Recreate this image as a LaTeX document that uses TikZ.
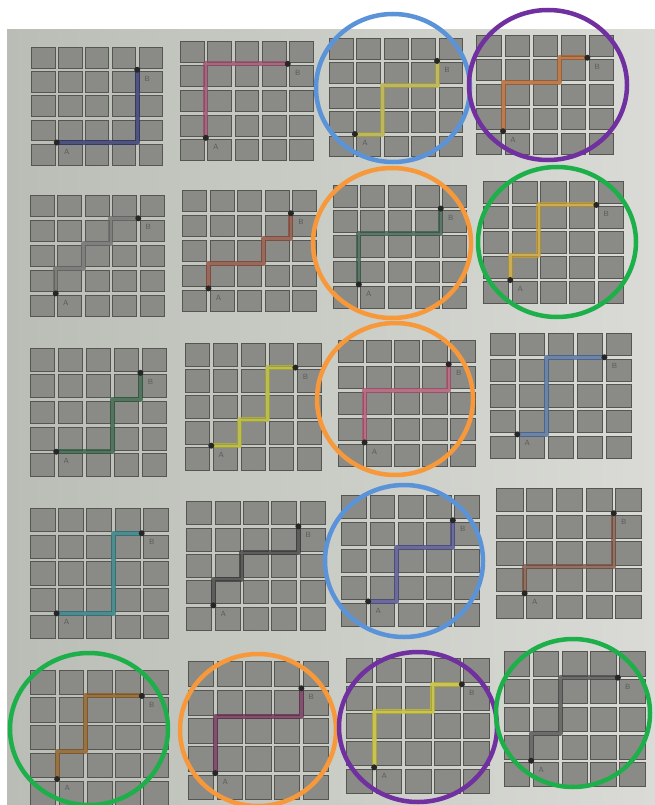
\documentclass[tikz,border=0pt]{standalone}
\usepackage{tikz}
\definecolor{PaperLeft}{HTML}{BABDB6}
\definecolor{PaperRight}{HTML}{DADBD6}
\definecolor{CellClr}{HTML}{8A8B87}
\definecolor{CellEdge}{HTML}{555652}
\definecolor{RingBlue}{HTML}{5B93D8}
\definecolor{RingPurple}{HTML}{7030A0}
\definecolor{RingOrange}{HTML}{F7993A}
\definecolor{RingGreen}{HTML}{1DB04A}
\definecolor{InkA}{HTML}{2A2F6A}
\definecolor{InkB}{HTML}{9A4A6A}
\definecolor{InkC}{HTML}{B8B040}
\definecolor{InkD}{HTML}{B0602A}
\definecolor{InkE}{HTML}{6A6A6A}
\definecolor{InkF}{HTML}{8A4A3A}
\definecolor{InkG}{HTML}{3A5A48}
\definecolor{InkH}{HTML}{C8A030}
\definecolor{InkI}{HTML}{2F5A40}
\definecolor{InkJ}{HTML}{B8B830}
\definecolor{InkK}{HTML}{B05070}
\definecolor{InkL}{HTML}{4A6A9A}
\definecolor{InkM}{HTML}{2A7A80}
\definecolor{InkN}{HTML}{3A3A3A}
\definecolor{InkO}{HTML}{4A4A8A}
\definecolor{InkP}{HTML}{7A5040}
\definecolor{InkQ}{HTML}{8A5A20}
\definecolor{InkR}{HTML}{6A2A50}
\definecolor{InkS}{HTML}{C8C030}
\definecolor{InkT}{HTML}{4A4A4A}

\tikzset{
  cell/.style={fill=CellClr,draw=CellEdge,line width=.6pt},
  ink/.style={draw=#1,line width=5pt,opacity=.75,line cap=round,line join=round},
  dot/.style={fill=black!85},
  lbl/.style={text=black!65,font=\sffamily\fontsize{7.5}{9}\selectfont,inner sep=0pt},
  ring/.style={draw=#1,line width=4.5pt}
}

% #1 left, #2 top, #3 width, #4 height, #5 ink, #6 walk from A to B
\newcommand{\pathgrid}[6]{%
  \pgfmathsetmacro\px{(#3+3.5)/5}%
  \pgfmathsetmacro\py{(#4+3.5)/5}%
  \pgfmathsetmacro\oy{#2-1.75+5*\py}%
  \begin{scope}[shift={(#1-1.75,\oy)},x={(\px pt,0pt)},y={(0pt,\py pt)}]
    \foreach \i in {0,...,4}
      \foreach \j in {0,...,4}
        \filldraw[cell] ([shift={(1.75pt,1.75pt)}]\i,\j) rectangle ([shift={(-1.75pt,-1.75pt)}]\i+1,\j+1);
    \draw[ink=#5] plot coordinates {#6};
    \fill[dot] (1,1) circle (3pt) (4,4) circle (3pt);
    \node[lbl] at ([shift={(10pt,-9pt)}]1,1) {A};
    \node[lbl] at ([shift={(10pt,-9pt)}]4,4) {B};
  \end{scope}}

\begin{document}
\begin{tikzpicture}[x=1pt,y=-1pt]
\useasboundingbox (0,0) rectangle (655,805);
\fill[white] (0,0) rectangle (655,805);
\shade[left color=PaperLeft,right color=PaperRight] (7,30) rectangle (655,805);

\pathgrid{31.7}{47.3}{130.6}{117.7}{InkA}{(1,1)(4,1)(4,4)}
\pathgrid{180.3}{41}{133}{119.7}{InkB}{(1,1)(1,4)(4,4)}
\pathgrid{329.3}{38.3}{133.4}{118.4}{InkC}{(1,1)(2,1)(2,3)(4,3)(4,4)}
\pathgrid{476.7}{35}{137}{119}{InkD}{(1,1)(1,3)(3,3)(3,4)(4,4)}

\pathgrid{30}{195}{134}{121.7}{InkE}{(1,1)(1,2)(2,2)(2,3)(3,3)(3,4)(4,4)}
\pathgrid{182.7}{190}{134}{121.7}{InkF}{(1,1)(1,2)(3,2)(3,3)(4,3)(4,4)}
\pathgrid{333.3}{185}{133}{123}{InkG}{(1,1)(1,3)(4,3)(4,4)}
\pathgrid{483.3}{181.7}{140}{121.6}{InkH}{(1,1)(1,2)(2,2)(2,4)(4,4)}

\pathgrid{30}{348.3}{136.7}{128}{InkI}{(1,1)(3,1)(3,3)(4,3)(4,4)}
\pathgrid{185}{343.3}{136.7}{126.7}{InkJ}{(1,1)(2,1)(2,2)(3,2)(3,4)(4,4)}
\pathgrid{338.3}{340}{136.7}{126.7}{InkK}{(1,1)(1,3)(4,3)(4,4)}
\pathgrid{490}{333.3}{141.7}{125}{InkL}{(1,1)(2,1)(2,4)(4,4)}

\pathgrid{30}{508.3}{138.3}{130}{InkM}{(1,1)(3,1)(3,4)(4,4)}
\pathgrid{186.7}{501.7}{138.3}{128.3}{InkN}{(1,1)(1,2)(2,2)(2,3)(4,3)(4,4)}
\pathgrid{341.7}{495}{137.6}{131.7}{InkO}{(1,1)(2,1)(2,3)(4,3)(4,4)}
\pathgrid{496.7}{488.3}{145}{130}{InkP}{(1,1)(1,2)(4,2)(4,4)}

\pathgrid{30.7}{670}{137.6}{135}{InkQ}{(1,1)(1,2)(2,2)(2,4)(4,4)}
\pathgrid{188.3}{661.7}{140}{138}{InkR}{(1,1)(1,3)(4,3)(4,4)}
\pathgrid{346.7}{658.3}{142.6}{135}{InkS}{(1,1)(1,3)(3,3)(3,4)(4,4)}
\pathgrid{504}{651.7}{141}{135}{InkT}{(1,1)(1,2)(2,2)(2,4)(4,4)}

\draw[ring=RingBlue] (393,88) ellipse (77pt and 74pt);
\draw[ring=RingPurple] (548,85) ellipse (79pt and 75pt);
\draw[ring=RingOrange] (392,243) ellipse (79pt and 75pt);
\draw[ring=RingGreen] (557,242) ellipse (79pt and 75pt);
\draw[ring=RingOrange] (395,399) ellipse (78pt and 76pt);
\draw[ring=RingBlue] (404,561) ellipse (79pt and 76pt);
\draw[ring=RingGreen] (89,729) ellipse (79pt and 76pt);
\draw[ring=RingOrange] (258,730) ellipse (78pt and 76pt);
\draw[ring=RingPurple] (418,727) ellipse (79pt and 75pt);
\draw[ring=RingGreen] (573,713) ellipse (77pt and 74pt);

\end{tikzpicture}
\end{document}
